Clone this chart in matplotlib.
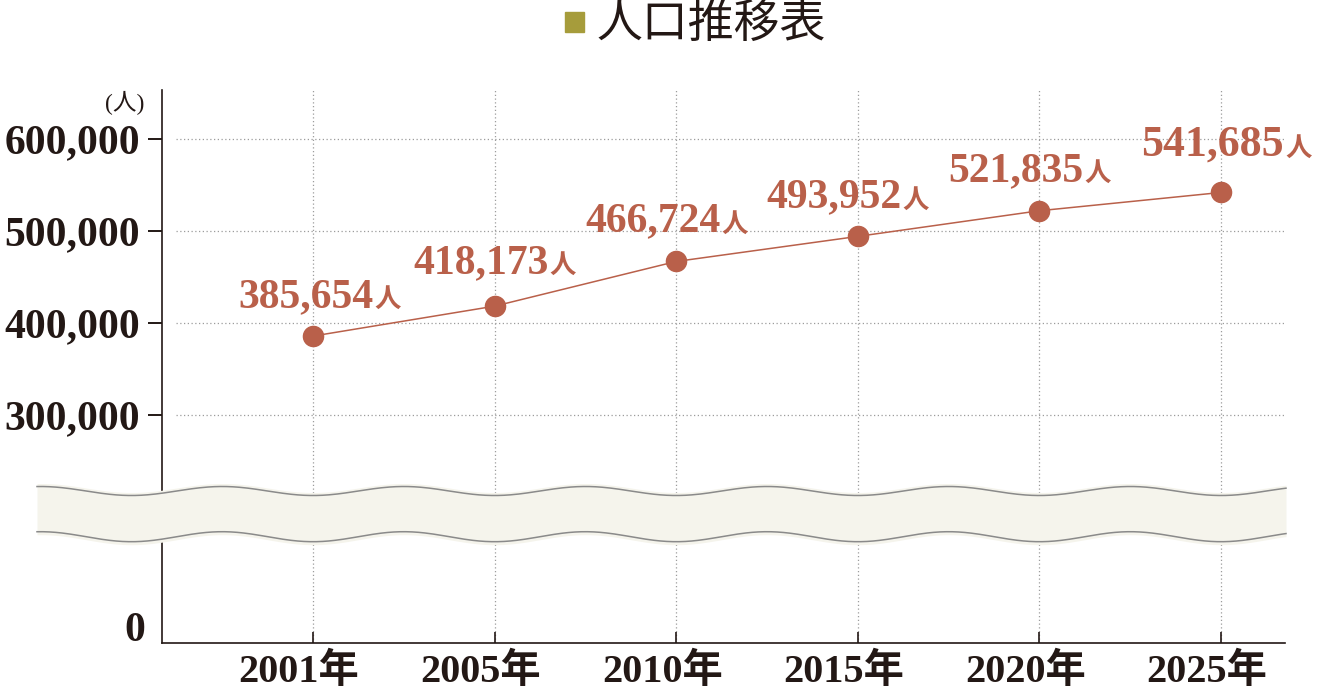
import numpy as np
import matplotlib
matplotlib.use("Agg")
import matplotlib.pyplot as plt
from matplotlib.patches import Rectangle
from matplotlib.transforms import ScaledTranslation, blended_transform_factory

# data
years = ['2001年', '2005年', '2010年', '2015年', '2020年', '2025年']
population = [385654, 418173, 466724, 493952, 521835, 541685]
y_ticks = [300000, 400000, 500000, 600000]
title = '人口推移表'
unit = '(人)'

# label placement (pixels from marker: right edge of digits, baseline height)
label_dx = [60, 54, 44, 44, 44, 63]
label_dy = [29, 33, 30, 29, 30, 37]
label_size = [30, 30, 30, 30, 30, 31.5]

W, H = 1319, 695
dark = '#231815'
red = '#B9604A'
serif = ['Liberation Serif', 'Noto Sans CJK JP']
cjk = ['Noto Sans CJK JP', 'DejaVu Sans']

plt.rcParams['font.family'] = serif

fig = plt.figure(figsize=(W / 100, H / 100), dpi=100)
ax = fig.add_axes([162 / W, 1 - 643 / H, (1285 - 162) / W, (643 - 90) / H])

# broken y scale: compress everything under 200,000
B, K = 200000.0, 0.739


def fwd(v):
    v = np.asarray(v, dtype=float)
    return np.where(v >= B, v, B - (B - v) * K)


def inv(u):
    u = np.asarray(u, dtype=float)
    return np.where(u >= B, u, B - (B - u) / K)


ax.set_yscale('function', functions=(fwd, inv))
ax.set_ylim(0, 653000)
x = np.arange(len(years))
ax.set_xlim(-0.8315, 5.352)

# grid
ax.xaxis.grid(True, color='#9c9c9c', lw=0.9, ls=(0, (1, 2)))
ax.set_axisbelow(True)
ax.hlines(y_ticks, -0.754, 5.352, colors='#9c9c9c', lw=0.9, ls=(0, (1, 2)), zorder=0.5)

# line + markers
ax.plot(x, population, color=red, lw=1.1, zorder=3)
ax.plot(x, population, 'o', color=red, ms=14.5, zorder=4)

for i, v in enumerate(population):
    ax.annotate(f'{v:,}', xy=(i, v), xytext=(label_dx[i], label_dy[i]),
                textcoords='offset pixels', ha='right', va='baseline',
                fontsize=label_size[i], fontweight='bold', color=red,
                family=serif)
    ax.annotate('人', xy=(i, v), xytext=(label_dx[i] + 1, label_dy[i]),
                textcoords='offset pixels', ha='left', va='baseline',
                fontsize=19, fontweight='bold', color=red,
                family=cjk)

# axes styling
for s in ['top', 'right']:
    ax.spines[s].set_visible(False)
for s in ['left', 'bottom']:
    ax.spines[s].set_linewidth(1.2)
    ax.spines[s].set_color(dark)

ax.set_yticks(y_ticks)
ax.set_yticklabels([f'{t:,}' for t in y_ticks])
ax.yaxis.set_minor_locator(matplotlib.ticker.NullLocator())
ax.tick_params(axis='y', direction='out', length=10, width=1.4, pad=6,
               labelsize=30, colors=dark)
for lbl in ax.get_yticklabels():
    lbl.set_fontweight('bold')

ax.set_xticks(x)
ax.set_xticklabels(years)
ax.tick_params(axis='x', direction='in', length=8, width=1.2, pad=7,
               labelsize=29, colors=dark)
shift = ScaledTranslation(-14 / 100, 0, fig.dpi_scale_trans)
for lbl in ax.get_xticklabels():
    lbl.set_fontweight('bold')
    lbl.set_transform(lbl.get_transform() + shift)

# zero label and unit
tr = blended_transform_factory(ax.transAxes, ax.transData)
ax.text(0, 0, '0', transform=tr + ScaledTranslation(-17 / 100, 2 / 100, fig.dpi_scale_trans),
        ha='right', va='baseline', fontsize=30, fontweight='bold', color=dark)
fig.text(125 / W, 1 - 103 / H, unit, ha='center', va='center', fontsize=17,
         color=dark, family=serif)

# title
fig.patches.append(Rectangle((565 / W, 1 - 32 / H), 19 / W, 20 / H,
                             transform=fig.transFigure, color='#A69C3B'))
fig.text(597 / W, 1 - 24 / H, title, ha='left', va='center', fontsize=33,
         color=dark, family=cjk)

# wavy break band
ov = fig.add_axes([0, 0, 1, 1], zorder=5)
ov.set_xlim(0, W)
ov.set_ylim(H, 0)
ov.axis('off')
ov.patch.set_visible(False)
x0 = ax.transData.transform((0, B))[0]
period = ax.transData.transform((1, B))[0] - x0
xs = np.linspace(37, 1286, 600)
ph = np.cos(2 * np.pi * (xs - x0) / period)
top = 491 + 4.5 * ph
bot = 536.7 + 5 * ph
ov.fill_between(xs, top - 3, bot + 3, color='#F5F4EC', lw=0)
ov.plot(xs, top, color='#8a8a8a', lw=1.1)
ov.plot(xs, bot, color='#8a8a8a', lw=1.1)

fig.savefig('out.png', dpi=100)
